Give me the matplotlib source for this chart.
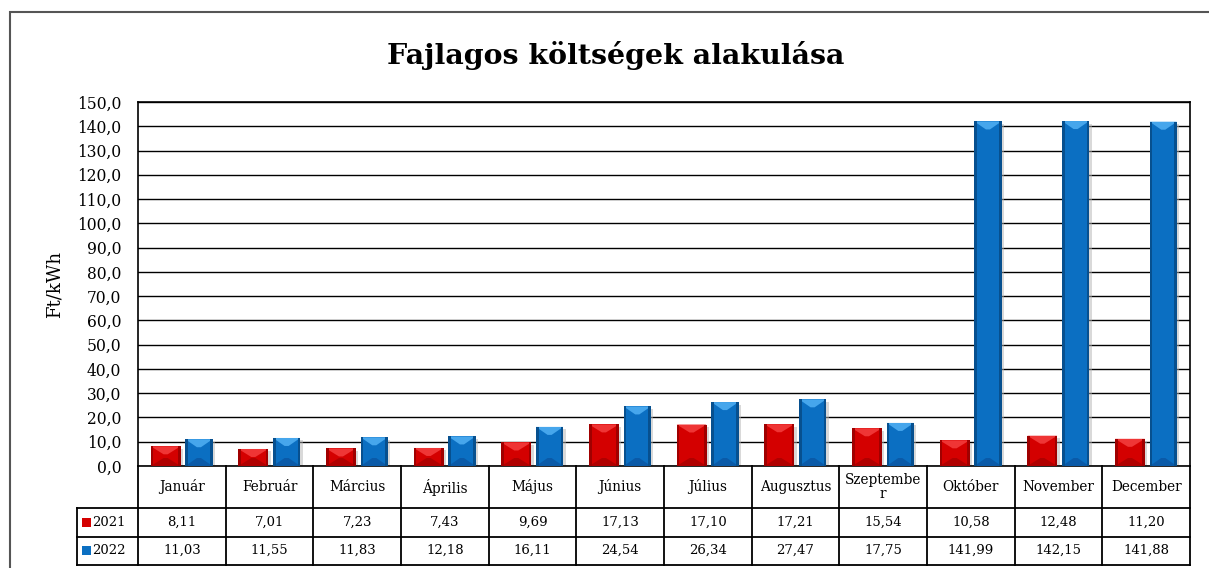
import numpy as np
import matplotlib.pyplot as plt
import matplotlib.transforms as mtransforms
from matplotlib.patches import Polygon, Rectangle
from matplotlib.ticker import FuncFormatter

# Adatok
honapok = ["Január", "Február", "Március", "Április", "Május", "Június",
           "Július", "Augusztus", "Szeptembe\nr", "Október", "November", "December"]
ev2021 = [8.11, 7.01, 7.23, 7.43, 9.69, 17.13, 17.10, 17.21, 15.54, 10.58, 12.48, 11.20]
ev2022 = [11.03, 11.55, 11.83, 12.18, 16.11, 24.54, 26.34, 27.47, 17.75, 141.99, 142.15, 141.88]
evek = ["2021", "2022"]

plt.rcParams['font.family'] = ['DejaVu Serif']

fig = plt.figure(figsize=(12.09, 5.68), dpi=100)
ax = fig.add_axes([138 / 1209, 1 - 466 / 568, 1052 / 1209, 364 / 568])

ax.set_xlim(-0.5, 11.5)
ax.set_ylim(0, 150)
ax.set_yticks(np.arange(0, 151, 10))
ax.yaxis.set_major_formatter(FuncFormatter(lambda v, p: f"{v:.1f}".replace(".", ",")))
ax.tick_params(axis='y', labelsize=11.2, length=0, pad=12)
ax.set_xticks([])
ax.grid(axis='y', color='black', lw=1)
ax.set_axisbelow(True)
for s in ax.spines.values():
    s.set_color('black')
    s.set_linewidth(1.2)
ax.set_ylabel("Ft/kWh", fontsize=13, labelpad=10)

# pixel -> adat egysegek
px_x = 12 / 1052
px_y = 150 / 364


def bevel_bar(xc, h, w, szinek):
    fo, teteje, alja, szel = szinek
    x0, x1 = xc - w / 2, xc + w / 2
    by = min(8 * px_y, h / 2)
    sx = 2.5 * px_x
    nx = 2 * px_x
    # arnyek
    ax.add_patch(Rectangle((x0 + 2.5 * px_x, -2.5 * px_y), w, h, color='#b5b5b5', alpha=0.5, lw=0, zorder=2))
    ax.add_patch(Rectangle((x0, 0), w, h, color=fo, lw=0, zorder=3))
    ax.add_patch(Polygon([(x0, h), (x1, h), (xc + nx, h - by), (xc - nx, h - by)], color=teteje, lw=0, zorder=4))
    ax.add_patch(Polygon([(x0, 0), (x1, 0), (xc + nx, by), (xc - nx, by)], color=alja, lw=0, zorder=4))
    ax.add_patch(Rectangle((x0, 0), sx, h, color=szel, lw=0, zorder=5))
    ax.add_patch(Rectangle((x1 - sx, 0), sx, h, color=szel, lw=0, zorder=5))


piros = ("#d40000", "#ef3535", "#b00000", "#a00000")
kek = ("#0b6fc2", "#46a6ec", "#0a5aa8", "#07508f")
for i in range(12):
    bevel_bar(i - 0.185, ev2021[i], 0.34, piros)
    bevel_bar(i + 0.195, ev2022[i], 0.31, kek)

# Adattabla
trans = mtransforms.blended_transform_factory(ax.transData, ax.transAxes)
h_fej = 42 / 364
h_sor = 28.5 / 364
y_fej = -h_fej
y1 = y_fej - h_sor
y2 = y1 - h_sor
lbl_w = 61 / 1052 * 12
lw = 1.3

for i, nev in enumerate(honapok):
    ax.text(i, y_fej / 2, nev, transform=trans, ha='center', va='center', fontsize=9.8,
            linespacing=1.0, clip_on=False)
    ax.text(i, (y_fej + y1) / 2, f"{ev2021[i]:.2f}".replace(".", ","), transform=trans,
            ha='center', va='center', fontsize=9.5, clip_on=False)
    ax.text(i, (y1 + y2) / 2, f"{ev2022[i]:.2f}".replace(".", ","), transform=trans,
            ha='center', va='center', fontsize=9.5, clip_on=False)

# fuggoleges vonalak
for k in range(13):
    ax.plot([k - 0.5, k - 0.5], [0, y2], transform=trans, color='black', lw=lw, clip_on=False)
ax.plot([-0.5 - lbl_w, -0.5 - lbl_w], [y_fej, y2], transform=trans, color='black', lw=lw, clip_on=False)
# vizszintes vonalak
for yy in (y_fej, y1, y2):
    ax.plot([-0.5 - lbl_w, 11.5], [yy, yy], transform=trans, color='black', lw=lw, clip_on=False)

# sorcimkek jelolokkel
sq = 9 * px_x
for j, (ev, sz) in enumerate(zip(evek, (piros, kek))):
    yc = (y_fej + y1) / 2 if j == 0 else (y1 + y2) / 2
    x0 = -0.5 - lbl_w + 5 * px_x
    ax.add_patch(Rectangle((x0, yc - 4.5 / 364), sq, 9 / 364, transform=trans, color=sz[0],
                           clip_on=False, lw=0))
    ax.text(x0 + sq + 1 * px_x, yc, ev, transform=trans, ha='left', va='center', fontsize=9.5,
            clip_on=False)

# Cim
fig.text(616 / 1209, 1 - 55 / 568, "Fajlagos költségek alakulása", ha='center', va='center',
         fontsize=20.5, fontweight='bold')

# Kulso keret
fig.add_artist(Rectangle((10 / 1209, -0.05), 1.2, 1 - 12 / 568 + 0.05, transform=fig.transFigure,
                         fill=False, edgecolor='#555555', lw=1.5))

fig.savefig("out.png", dpi=100)
